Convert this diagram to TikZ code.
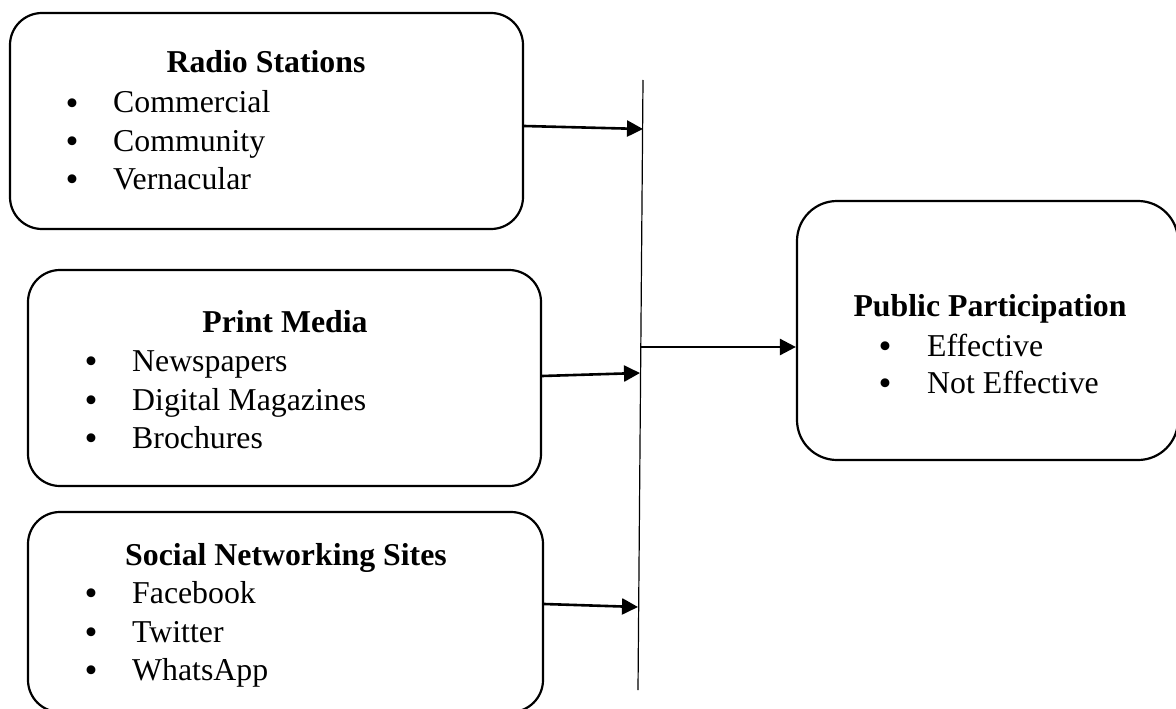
\documentclass[tikz,border=0pt]{standalone}
\usepackage{fontspec}
\setmainfont{Liberation Serif}
\usetikzlibrary{arrows.meta}
\begin{document}
\begin{tikzpicture}[x=1pt,y=-1pt,
  box/.style={draw, line width=2.2pt, rounded corners=32pt, inner sep=0pt, minimum width=#1},
  ttl/.style={font=\bfseries\fontsize{31.8}{38}\selectfont, anchor=base, inner sep=0pt},
  itm/.style={font=\fontsize{31.8}{38}\selectfont, anchor=base west, inner sep=0pt},
  bul/.style={font=\fontsize{37}{37}\selectfont, anchor=base, inner sep=0pt, yshift=-2.2pt},
  arr/.style={line width=2.6pt, -{Triangle[length=16pt,width=16pt]}},
  bar/.style={line width=1.2pt}]
\useasboundingbox (0,0) rectangle (1176,709);
\clip (0,0) rectangle (1176,709);

% boxes
\node[box=513pt, minimum height=216pt] (radio) at (266.5,121) {};
\node[box=513pt, minimum height=216pt] (print) at (284.5,378) {};
\node[box=515pt, minimum height=200pt] (social) at (285.5,612) {};
\node[box=381pt, minimum height=259pt, rounded corners=40pt] (pub) at (987.5,330.5) {};

% Radio Stations
\node[ttl] (t1) at (266,73) {Radio Stations};
\node[bul] (b11) at (72,113) {•}; \node[itm] (i11) at (113,113) {Commercial};
\node[bul] (b12) at (72,151) {•}; \node[itm] (i12) at (113,151) {Community};
\node[bul] (b13) at (72,189) {•}; \node[itm] (i13) at (113,189) {Vernacular};

% Print Media
\node[ttl] (t2) at (285,332) {Print Media};
\node[bul] (b21) at (91,371) {•}; \node[itm] (i21) at (132,371) {Newspapers};
\node[bul] (b22) at (91,410) {•}; \node[itm] (i22) at (132,410) {Digital Magazines};
\node[bul] (b23) at (91,448) {•}; \node[itm] (i23) at (132,448) {Brochures};

% Social Networking Sites
\node[ttl] (t3) at (286,565) {Social Networking Sites};
\node[bul] (b31) at (91,603) {•}; \node[itm] (i31) at (132,603) {Facebook};
\node[bul] (b32) at (91,642) {•}; \node[itm] (i32) at (132,642) {Twitter};
\node[bul] (b33) at (91,680) {•}; \node[itm] (i33) at (132,680) {WhatsApp};

% Public Participation
\node[ttl] (t4) at (990,316) {Public Participation};
\node[bul] (b41) at (885,356) {•}; \node[itm] (i41) at (927,356) {Effective};
\node[bul] (b42) at (885,393) {•}; \node[itm] (i42) at (927,393) {Not Effective};

% vertical bar
\coordinate (bt) at (643,80);
\coordinate (bb) at (638,690);
\draw[bar] (bt) -- (bb);

% connectors
\coordinate (p1) at (643,129);
\coordinate (p2) at (640,373);
\coordinate (p3) at (638,607);
\coordinate (m0) at (640,347);
\draw[arr] ([yshift=-5pt]radio.east) -- (p1);
\draw[arr] ([yshift=2pt]print.east) -- (p2);
\draw[arr] ([yshift=8pt]social.east) -- (p3);
\draw[arr] (m0) -- (m0 -| pub.west);
\end{tikzpicture}
\end{document}
